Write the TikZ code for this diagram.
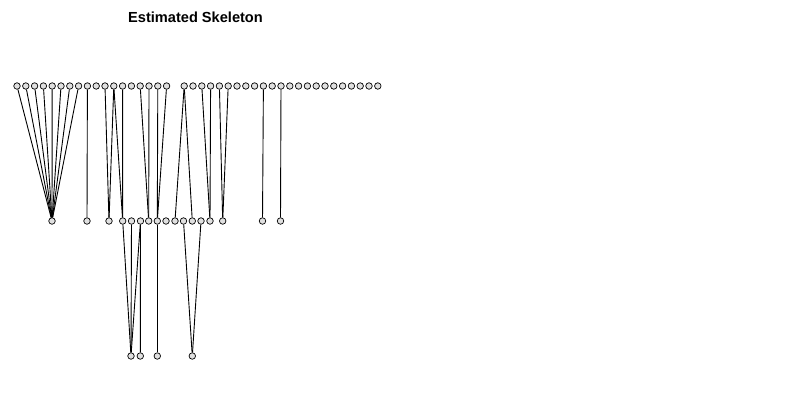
\documentclass[tikz,border=0pt]{standalone}
\usepackage{fontspec}
\setmainfont{Liberation Sans}
\begin{document}
\begin{tikzpicture}[x=1pt,y=-1pt,
  vtx/.style={circle,draw=black,fill=black!12,line width=0.7pt,inner sep=0pt,minimum size=6.5pt},
  edge/.style={draw=black,line width=0.9pt}]
\useasboundingbox[fill=white] (0,0) rectangle (788,418);
\node[font=\bfseries\fontsize{14.6}{17}\selectfont] (title) at (195.5,17) {Estimated Skeleton};
% top row
\foreach \i in {0,...,41}{
  \ifnum\i=18\relax\else
    \node[vtx] (T\i) at ({17+8.8*\i},86) {};
  \fi
}
% middle row
\foreach \x [count=\j from 0] in {52,87,109,122.7,131.5,140.5,148.7,157.3,166,175,183.5,192.3,201,210,222.7,262.5,280.5}{
  \node[vtx] (M\j) at (\x,221) {};
}
% bottom row
\foreach \x [count=\j from 0] in {131,140.3,157.3,192.3}{
  \node[vtx] (B\j) at (\x,356) {};
}
% edges
\foreach \a/\b in {T0/M0,T1/M0,T2/M0,T3/M0,T4/M0,T5/M0,T6/M0,T7/M0,T8/M1,
  T10/M2,T11/M2,T11/M3,T12/M3,T14/M6,T15/M6,T16/M7,T17/M7,
  T19/M9,T19/M11,T21/M13,T22/M13,T23/M14,T24/M14,T28/M15,T30/M16,
  M3/B0,M4/B0,M5/B0,M5/B1,M7/B2,M10/B3,M12/B3}{
  \draw[edge] (\a) -- (\b);
}
\end{tikzpicture}
\end{document}
